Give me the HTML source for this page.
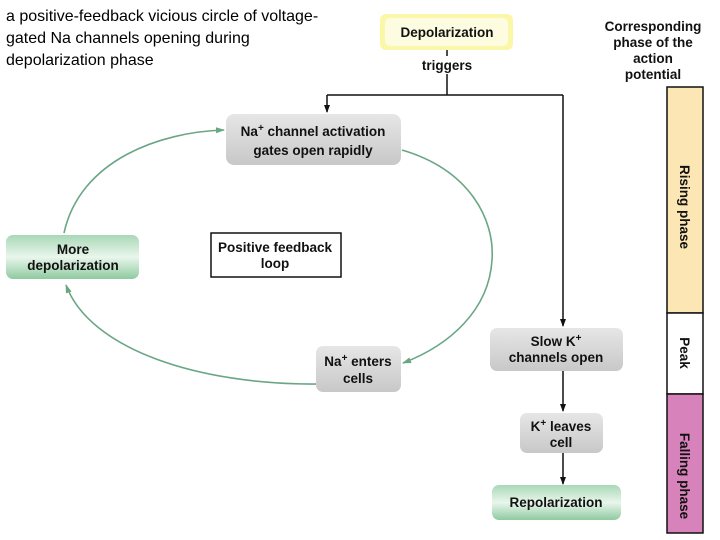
<!DOCTYPE html>
<html><head><meta charset="utf-8"><style>
body{margin:0;background:#fff;}
svg{display:block;font-family:"Liberation Sans",sans-serif;}
.b{font-weight:bold;font-size:13.5px;fill:#111;text-anchor:middle;}
</style></head><body>
<svg width="720" height="540" viewBox="0 0 720 540">
<defs>
<linearGradient id="gr" x1="0" y1="0" x2="0" y2="1"><stop offset="0" stop-color="#e6e6e6"/><stop offset="1" stop-color="#c8c8c8"/></linearGradient>
<linearGradient id="gn" x1="0" y1="0" x2="0" y2="1"><stop offset="0" stop-color="#a9d8b7"/><stop offset="0.5" stop-color="#e9f6ec"/><stop offset="1" stop-color="#8fcaa0"/></linearGradient>
<marker id="ak" markerWidth="8" markerHeight="8" refX="7" refY="4" orient="auto" markerUnits="userSpaceOnUse"><path d="M0,1 L8,4 L0,7 Z" fill="#111"/></marker>
<marker id="ag" markerWidth="9" markerHeight="8" refX="8" refY="4" orient="auto" markerUnits="userSpaceOnUse"><path d="M0,1 L9,4 L0,7 Z" fill="#6aa684"/></marker>
</defs>
<text x="6" y="21" font-size="16" fill="#000">a positive-feedback vicious circle of voltage-</text>
<text x="6" y="43" font-size="16" fill="#000">gated Na channels opening during</text>
<text x="6" y="65" font-size="16" fill="#000">depolarization phase</text>

<rect x="380" y="14" width="133" height="36" rx="6" fill="#fbf7a8"/>
<rect x="385" y="18" width="123" height="28" rx="5" fill="#fdfbe0"/>
<text class="b" x="447" y="37">Depolarization</text>
<line x1="447" y1="50" x2="447" y2="56" stroke="#111" stroke-width="1.5"/>
<text class="b" x="447" y="70">triggers</text>
<polyline points="447,74 447,95" fill="none" stroke="#111" stroke-width="1.5"/>
<line x1="327" y1="95" x2="563" y2="95" stroke="#111" stroke-width="1.5"/>
<line x1="327" y1="95" x2="327" y2="112" stroke="#111" stroke-width="1.5" marker-end="url(#ak)"/>
<line x1="563" y1="95" x2="563" y2="326" stroke="#111" stroke-width="1.5" marker-end="url(#ak)"/>
<line x1="563" y1="371" x2="563" y2="411" stroke="#111" stroke-width="1.5" marker-end="url(#ak)"/>
<line x1="563" y1="453" x2="563" y2="484" stroke="#111" stroke-width="1.5" marker-end="url(#ak)"/>

<path d="M64,233 C80,160 160,132 224,130" fill="none" stroke="#6aa684" stroke-width="1.6" marker-end="url(#ag)"/>
<path d="M402,150 C470,170 495,220 492,260 C489,310 450,345 403,363" fill="none" stroke="#6aa684" stroke-width="1.6" marker-end="url(#ag)"/>
<path d="M318,384 C200,385 90,350 66,285" fill="none" stroke="#6aa684" stroke-width="1.6" marker-end="url(#ag)"/>

<rect x="226" y="114" width="175" height="51" rx="8" fill="url(#gr)"/>
<text class="b" x="313" y="136">Na<tspan font-size="10" dy="-5">+</tspan><tspan dy="5"> channel activation</tspan></text>
<text class="b" x="313" y="155">gates open rapidly</text>

<rect x="6" y="235" width="133" height="44" rx="7" fill="url(#gn)"/>
<text class="b" x="73" y="254">More</text>
<text class="b" x="73" y="270">depolarization</text>

<rect x="211" y="233" width="130" height="44" fill="#fff" stroke="#111" stroke-width="1.5"/>
<text class="b" x="275" y="252">Positive feedback</text>
<text class="b" x="275" y="268">loop</text>

<rect x="316" y="346" width="85" height="46" rx="7" fill="url(#gr)"/>
<text class="b" x="358" y="366">Na<tspan font-size="10" dy="-5">+</tspan><tspan dy="5"> enters</tspan></text>
<text class="b" x="358" y="383">cells</text>

<rect x="490" y="328" width="133" height="43" rx="7" fill="url(#gr)"/>
<text class="b" x="556" y="346">Slow K<tspan font-size="10" dy="-5">+</tspan></text>
<text class="b" x="556" y="362">channels open</text>

<rect x="520" y="413" width="83" height="40" rx="7" fill="url(#gr)"/>
<text class="b" x="561" y="431">K<tspan font-size="10" dy="-5">+</tspan><tspan dy="5"> leaves</tspan></text>
<text class="b" x="561" y="447">cell</text>

<rect x="492" y="485" width="129" height="35" rx="7" fill="url(#gn)"/>
<text class="b" x="556" y="507">Repolarization</text>

<text class="b" x="653" y="31">Corresponding</text>
<text class="b" x="653" y="47">phase of the</text>
<text class="b" x="653" y="63">action</text>
<text class="b" x="653" y="79">potential</text>

<rect x="667" y="87" width="36" height="226" fill="#fbe6b4" stroke="#111" stroke-width="1.5"/>
<rect x="667" y="313" width="36" height="81" fill="#fff" stroke="#111" stroke-width="1.5"/>
<rect x="667" y="394" width="36" height="139" fill="#d882bb" stroke="#111" stroke-width="1.5"/>
<text class="b" transform="translate(680,207) rotate(90)">Rising phase</text>
<text class="b" transform="translate(680,353) rotate(90)">Peak</text>
<text class="b" transform="translate(680,476) rotate(90)">Falling phase</text>
</svg>
</body></html>
